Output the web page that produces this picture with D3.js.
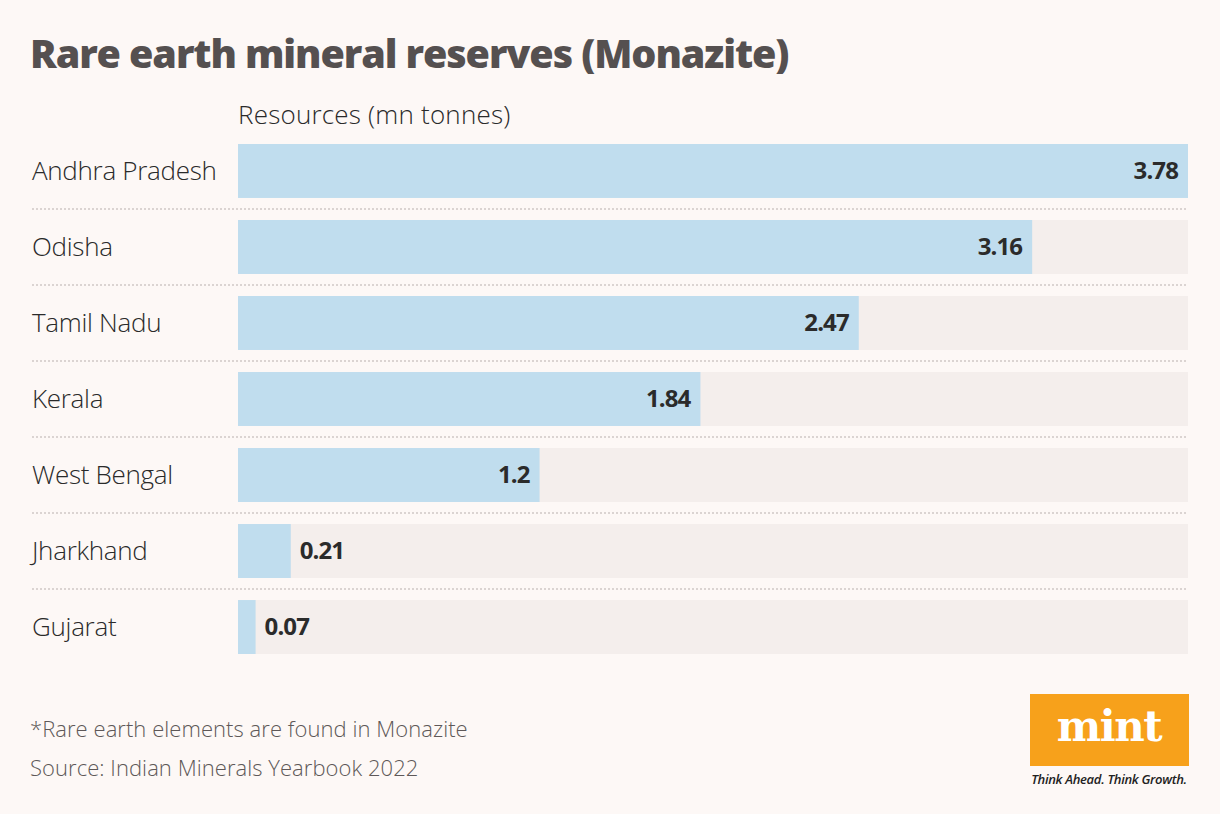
<!DOCTYPE html>
<html>
<head>
<meta charset="utf-8">
<script src="https://cdn.jsdelivr.net/npm/d3@7"></script>
<style>
  body { margin: 0; background: #fdf8f6; }
  svg { display: block; }
</style>
</head>
<body>
<script>
var states = ['Andhra Pradesh', 'Odisha', 'Tamil Nadu', 'Kerala', 'West Bengal', 'Jharkhand', 'Gujarat'];
var resources = [3.78, 3.16, 2.47, 1.84, 1.2, 0.21, 0.07];
var labels = ['3.78', '3.16', '2.47', '1.84', '1.2', '0.21', '0.07'];

var width = 1220, height = 814;
var font = "'Open Sans', 'Noto Sans', sans-serif";

var svg = d3.select('body').append('svg')
            .attr('width', width)
            .attr('height', height);

svg.append('rect').attr('width', width).attr('height', height).attr('fill', '#fdf8f6');

// title
svg.append('text')
   .attr('x', 30).attr('y', 68)
   .attr('font-family', font).attr('font-weight', 800)
   .attr('font-size', 39.5).attr('letter-spacing', -1.1)
   .attr('fill', '#555050')
   .text('Rare earth mineral reserves (Monazite)');

svg.append('text')
   .attr('x', 238).attr('y', 124)
   .attr('font-family', font).attr('font-weight', 300)
   .attr('font-size', 26).attr('letter-spacing', 0.2)
   .attr('fill', '#2a2a2a')
   .text('Resources (mn tonnes)');

var x = d3.scaleLinear().domain([0, 3.78]).range([238, 1188]);
var y = d3.scaleBand().domain(states).range([144, 654]).paddingInner(0.29).paddingOuter(0);

var data = states.map(function(s, i){ return {state: s, value: resources[i], label: labels[i]}; });

var rows = svg.selectAll('.row')
              .data(data)
            .enter()
              .append('g')
              .attr('class', 'row');

// separators
rows.filter(function(d,i){ return i < states.length - 1; })
    .append('line')
    .attr('x1', 32).attr('x2', 1188)
    .attr('y1', function(d){ return y(d.state) + y.bandwidth() + (y.step() - y.bandwidth())/2; })
    .attr('y2', function(d){ return y(d.state) + y.bandwidth() + (y.step() - y.bandwidth())/2; })
    .attr('stroke', '#cfc8c6').attr('stroke-width', 1.3)
    .attr('stroke-dasharray', '2,2');

// track
rows.append('rect')
    .attr('x', x(0)).attr('y', function(d){ return y(d.state); })
    .attr('width', x(3.78) - x(0)).attr('height', y.bandwidth())
    .attr('fill', '#f4eeec');

// bar
rows.append('rect')
    .attr('x', x(0)).attr('y', function(d){ return y(d.state); })
    .attr('width', function(d){ return x(d.value) - x(0); })
    .attr('height', y.bandwidth())
    .attr('fill', '#c0ddee');

// state labels
rows.append('text')
    .attr('x', 32).attr('y', function(d){ return y(d.state) + y.bandwidth()/2; })
    .attr('dy', '0.35em')
    .attr('font-family', font).attr('font-weight', 300)
    .attr('font-size', 26).attr('letter-spacing', -0.3)
    .attr('fill', '#2a2a2a')
    .text(function(d){ return d.state; });

// values
rows.append('text')
    .attr('x', function(d){ return d.value > 1 ? x(d.value) - 10 : x(d.value) + 9; })
    .attr('y', function(d){ return y(d.state) + y.bandwidth()/2; })
    .attr('dy', '0.35em')
    .attr('text-anchor', function(d){ return d.value > 1 ? 'end' : 'start'; })
    .attr('font-family', font).attr('font-weight', 700)
    .attr('font-size', 24).attr('letter-spacing', -0.9)
    .attr('fill', '#2b2b2b')
    .text(function(d){ return d.label; });

// footnotes
svg.append('text')
   .attr('x', 30).attr('y', 737)
   .attr('font-family', font).attr('font-weight', 300)
   .attr('font-size', 22).attr('letter-spacing', 0.05)
   .attr('fill', '#5e5858')
   .text('*Rare earth elements are found in Monazite');
svg.append('text')
   .attr('x', 30).attr('y', 776)
   .attr('font-family', font).attr('font-weight', 300)
   .attr('font-size', 22).attr('letter-spacing', 0.05)
   .attr('fill', '#5e5858')
   .text('Source: Indian Minerals Yearbook 2022');

// logo
svg.append('rect')
   .attr('x', 1030).attr('y', 694).attr('width', 159).attr('height', 72)
   .attr('fill', '#f7a11b');
svg.append('text')
   .attr('x', 1109).attr('y', 741)
   .attr('text-anchor', 'middle')
   .attr('font-family', "'DejaVu Serif', 'Liberation Serif', serif").attr('font-weight', 700)
   .attr('font-size', 42).attr('letter-spacing', -1.5)
   .attr('fill', '#ffffff')
   .text('mint');
svg.append('text')
   .attr('x', 1109).attr('y', 784)
   .attr('text-anchor', 'middle')
   .attr('font-family', font).attr('font-weight', 600).attr('font-style', 'italic')
   .attr('font-size', 13).attr('letter-spacing', -0.3)
   .attr('fill', '#222')
   .text('Think Ahead. Think Growth.');
</script>
</body>
</html>
